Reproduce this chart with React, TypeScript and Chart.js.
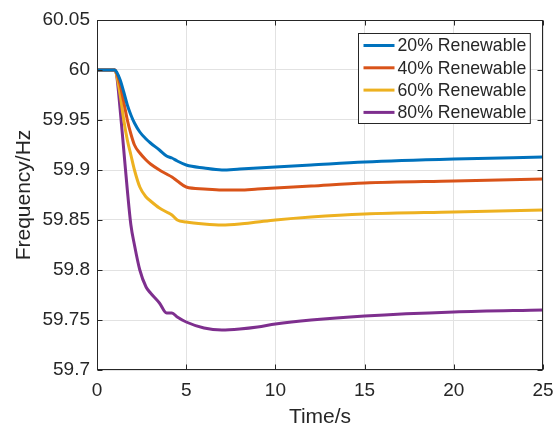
import React, { useEffect, useRef } from "react";
import { Chart, registerables } from "chart.js";

Chart.register(...registerables);

const TIME = [0, 1, 1.1, 1.3, 1.5, 1.7, 1.9, 2.1, 2.4, 2.75, 3, 3.5, 3.9, 4.2, 4.5, 5, 6, 7, 8, 9, 10, 12, 15, 20, 25];
const R20 = [60, 60, 59.998, 59.99, 59.978, 59.965, 59.955, 59.947, 59.938, 59.931, 59.927, 59.92, 59.914, 59.912, 59.909, 59.905, 59.902, 59.9, 59.901, 59.902, 59.903, 59.905, 59.908, 59.911, 59.913];
const R40 = [60, 60, 59.997, 59.985, 59.968, 59.95, 59.936, 59.925, 59.917, 59.91, 59.906, 59.9, 59.896, 59.893, 59.889, 59.883, 59.881, 59.88, 59.88, 59.881, 59.882, 59.884, 59.887, 59.889, 59.891];
const R60 = [60, 60, 59.995, 59.975, 59.95, 59.93, 59.915, 59.9, 59.883, 59.873, 59.869, 59.862, 59.858, 59.855, 59.85, 59.848, 59.846, 59.845, 59.846, 59.848, 59.85, 59.853, 59.856, 59.858, 59.86];
const R80 = [60, 60, 59.995, 59.96, 59.92, 59.88, 59.845, 59.825, 59.8, 59.783, 59.777, 59.767, 59.757, 59.757, 59.753, 59.748, 59.742, 59.74, 59.741, 59.743, 59.746, 59.75, 59.754, 59.758, 59.76];

const SERIES_LABELS = ["20% Renewable", "40% Renewable", "60% Renewable", "80% Renewable"];
const SERIES_VALUES = [R20, R40, R60, R80];
const SERIES_COLORS = ["#0072BD", "#D95319", "#EDB120", "#7E2F8E"];

const X_MIN = 0, X_MAX = 25, X_STEP = 5;
const Y_MIN = 59.7, Y_MAX = 60.05, Y_STEP = 0.05;
const X_TITLE = "Time/s";
const Y_TITLE = "Frequency/Hz";

const FONT = "'Liberation Sans', Arial, sans-serif";
const INK = "#262626";

const boxPlugin = {
  id: "matlabBox",
  afterDatasetsDraw(chart: any) {
    const ctx = chart.ctx;
    const { left, right, top, bottom } = chart.chartArea;
    const L = Math.round(left) + 0.5, R = Math.round(right) - 0.5;
    const T = Math.round(top) + 0.5, B = Math.round(bottom) - 0.5;
    ctx.save();
    ctx.strokeStyle = INK;
    ctx.lineWidth = 1;
    ctx.strokeRect(L, T, R - L, B - T);
    const tl = 5;
    const xs = chart.scales.x, ys = chart.scales.y;
    ctx.beginPath();
    xs.ticks.forEach((t: any) => {
      const px = Math.round(xs.getPixelForValue(t.value)) + 0.5;
      ctx.moveTo(px, B); ctx.lineTo(px, B - tl);
      ctx.moveTo(px, T); ctx.lineTo(px, T + tl);
    });
    ys.ticks.forEach((t: any) => {
      const py = Math.round(ys.getPixelForValue(t.value)) + 0.5;
      ctx.moveTo(L, py); ctx.lineTo(L + tl, py);
      ctx.moveTo(R, py); ctx.lineTo(R - tl, py);
    });
    ctx.stroke();

    // legend
    ctx.font = `17.7px ${FONT}`;
    const datasets = chart.data.datasets;
    let maxW = 0;
    datasets.forEach((d: any) => { maxW = Math.max(maxW, ctx.measureText(d.label).width); });
    const padL = 5, sample = 31, gap = 3, padR = 4, rowH = 22.3, padT = 12;
    const w = padL + sample + gap + maxW + padR;
    const h = 90;
    const x0 = Math.round(right - 13 - w) + 0.5;
    const y0 = Math.round(top + 13) + 0.5;
    ctx.fillStyle = "#ffffff";
    ctx.fillRect(x0, y0, w, h);
    ctx.strokeStyle = INK;
    ctx.lineWidth = 1;
    ctx.strokeRect(x0, y0, w, h);
    datasets.forEach((d: any, i: number) => {
      const y = y0 + padT + i * rowH;
      ctx.strokeStyle = d.borderColor;
      ctx.lineWidth = 3;
      ctx.beginPath();
      ctx.moveTo(x0 + padL, y);
      ctx.lineTo(x0 + padL + sample, y);
      ctx.stroke();
      ctx.fillStyle = INK;
      ctx.textBaseline = "middle";
      ctx.textAlign = "left";
      ctx.fillText(d.label, x0 + padL + sample + gap, y + 1);
    });
    ctx.restore();
  },
};

export default function App() {
  const ref = useRef<HTMLCanvasElement | null>(null);
  useEffect(() => {
    if (!ref.current) return;
    const chart = new Chart(ref.current, {
      type: "line",
      data: {
        datasets: SERIES_LABELS.map((label, i) => ({
          label,
          data: TIME.map((t, j) => ({ x: t, y: SERIES_VALUES[i][j] })),
          borderColor: SERIES_COLORS[i],
          backgroundColor: SERIES_COLORS[i],
          borderWidth: 3,
          pointRadius: 0,
          fill: false,
          cubicInterpolationMode: "monotone" as const,
        })),
      },
      options: {
        animation: false,
        responsive: false,
        layout: { padding: { top: 20, right: 14, left: 0, bottom: 0 } },
        plugins: { legend: { display: false }, tooltip: { enabled: false } },
        scales: {
          x: {
            type: "linear",
            min: X_MIN,
            max: X_MAX,
            ticks: {
              stepSize: X_STEP,
              padding: 9,
              color: INK,
              font: { family: FONT, size: 19 },
              maxRotation: 0,
            },
            grid: { color: "#e2e2e2", drawTicks: false, lineWidth: 1 },
            border: { display: false },
            title: {
              display: true,
              text: X_TITLE,
              color: INK,
              font: { family: FONT, size: 21, lineHeight: 0.9 },
              padding: { top: 0, bottom: 0 },
            },
            afterFit: (s: any) => { s.height = 57; s.paddingLeft = 0; s.paddingRight = 0; },
          },
          y: {
            type: "linear",
            min: Y_MIN,
            max: Y_MAX,
            ticks: {
              stepSize: Y_STEP,
              padding: 7,
              color: INK,
              font: { family: FONT, size: 19 },
              callback: (v: any) => String(Number(Number(v).toFixed(2))),
            },
            grid: { color: "#e2e2e2", drawTicks: false, lineWidth: 1 },
            border: { display: false },
            title: {
              display: true,
              text: Y_TITLE,
              color: INK,
              font: { family: FONT, size: 21 },
              padding: { top: 12, bottom: 0 },
            },
            afterFit: (s: any) => { s.width = 97; s.paddingTop = 0; s.paddingBottom = 0; },
          },
        },
      },
      plugins: [boxPlugin],
    });
    return () => chart.destroy();
  }, []);
  return (
    <div style={{ position: "fixed", left: 0, top: 0, width: 557, height: 427, background: "#fff" }}>
      <canvas ref={ref} width={557} height={427} style={{ display: "block" }} />
    </div>
  );
}
